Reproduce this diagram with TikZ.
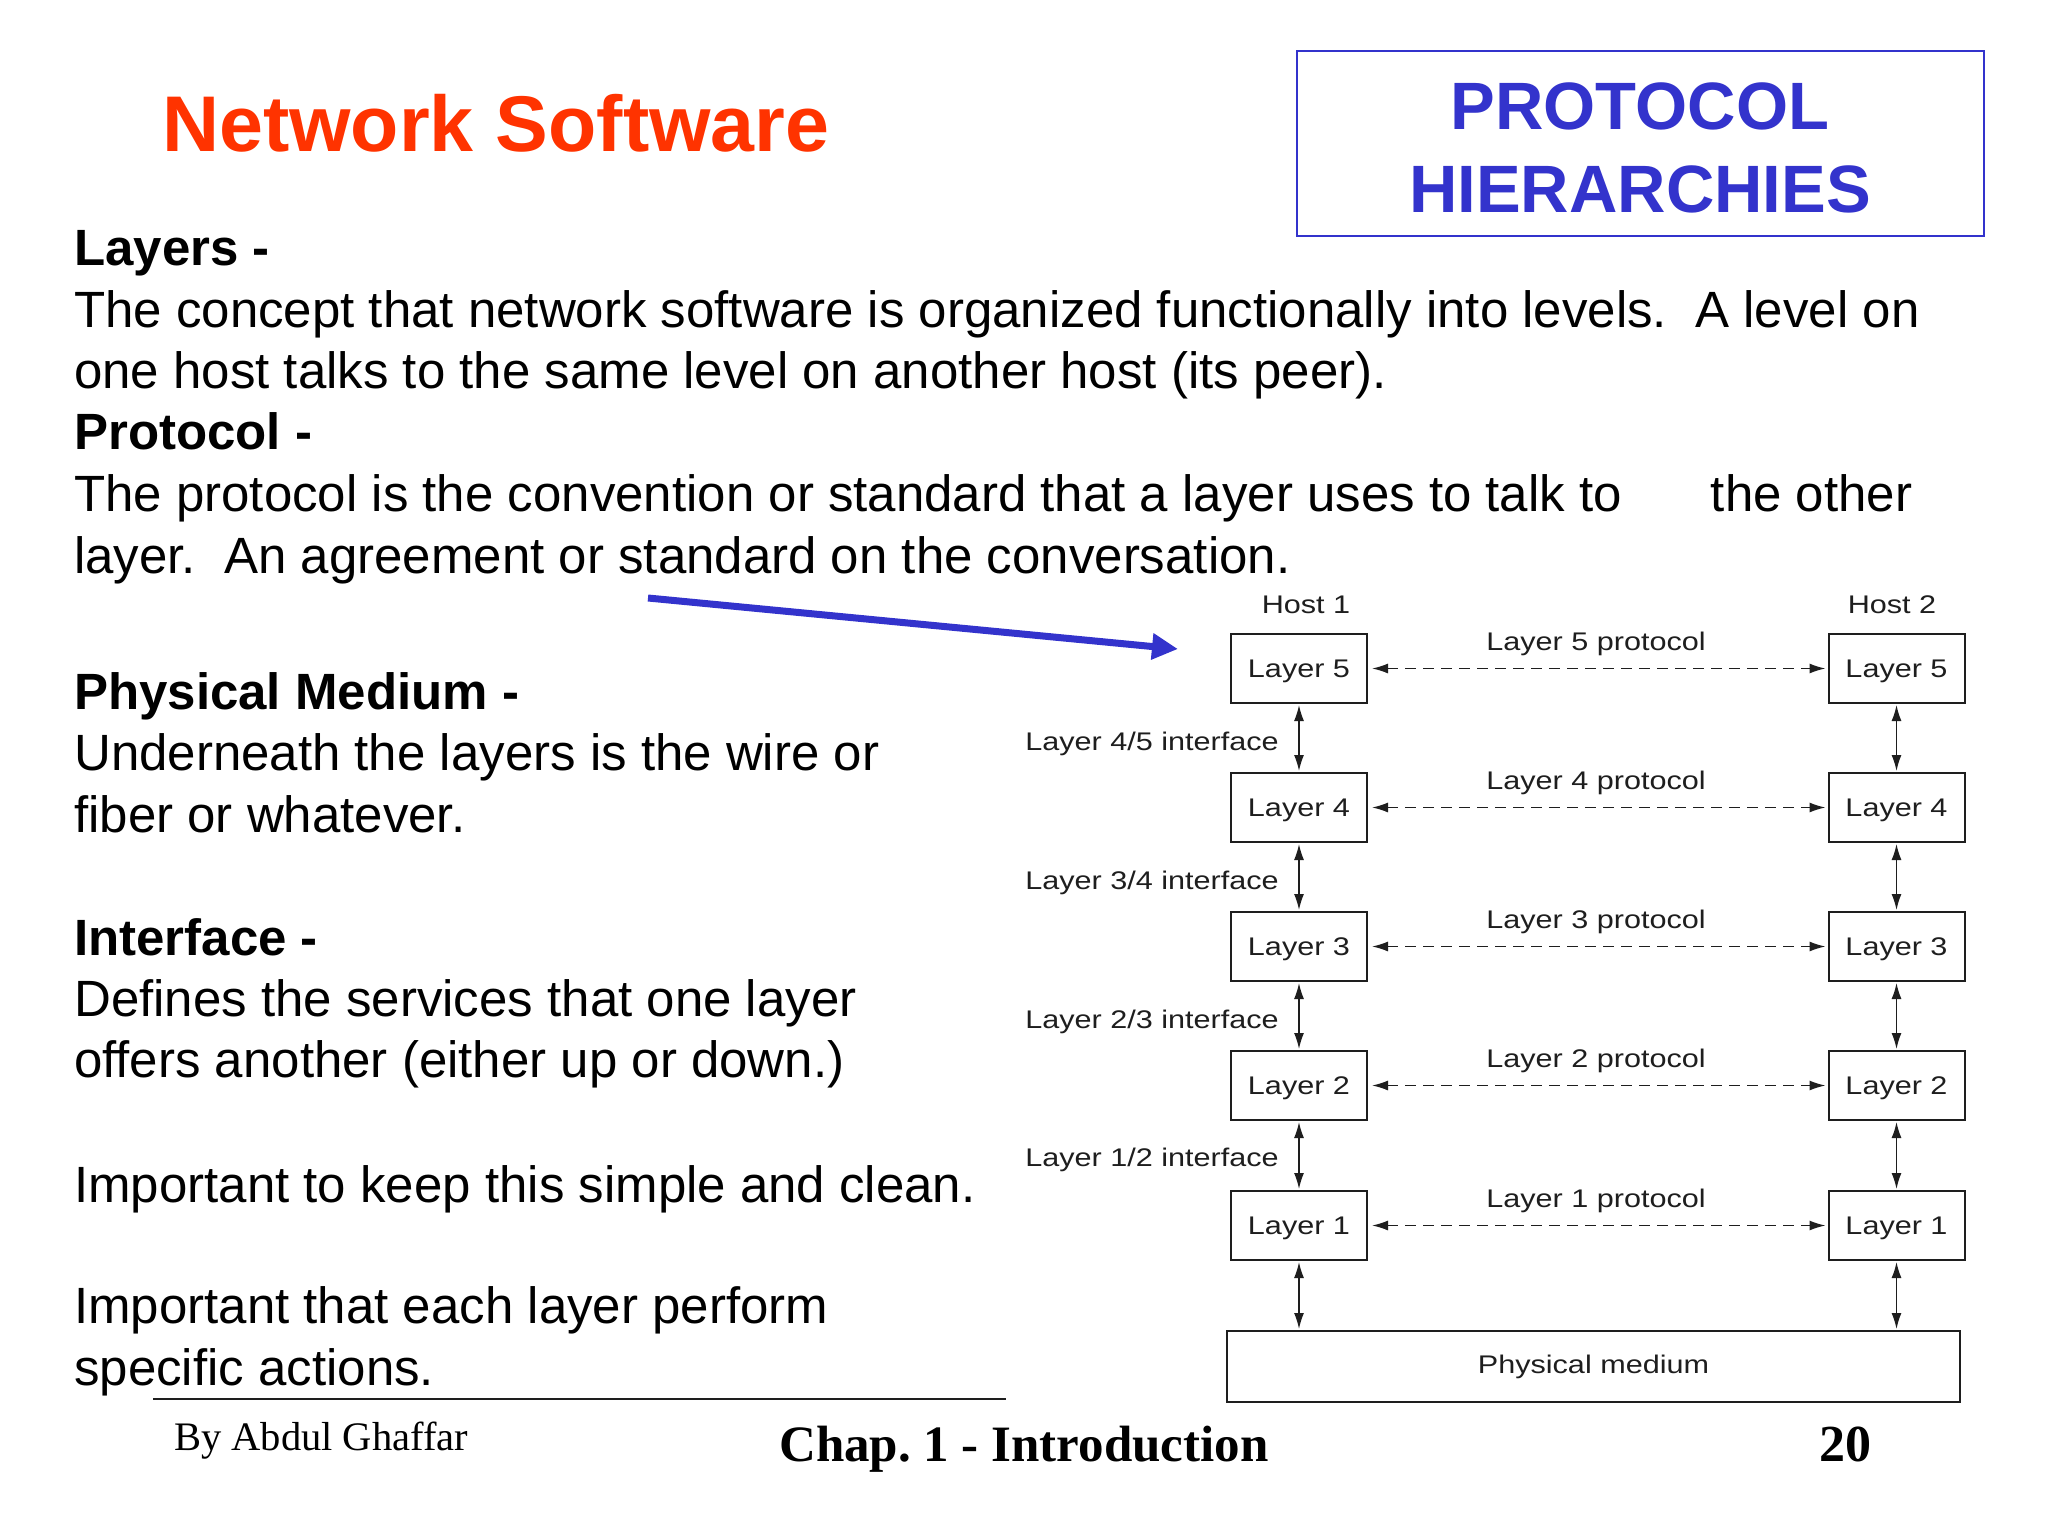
\documentclass[tikz,border=0pt]{standalone}
\usepackage{fontspec}
\setmainfont{Liberation Sans}
\newfontfamily\footserif{Liberation Serif}
\usetikzlibrary{arrows.meta}
\definecolor{titlered}{HTML}{FF3300}
\definecolor{hblue}{HTML}{3333CC}
\definecolor{ink}{HTML}{1E1E1E}
\newcommand{\diagtxt}[1]{{\fontsize{25.5}{30}\selectfont\scalebox{1.2}[1]{#1}}}
\frenchspacing
\tikzset{
  body/.style={anchor=base west, inner sep=0pt, text=black, font=\fontsize{51}{61.6}\selectfont},
  bodyhead/.style={body, font=\fontsize{51}{61.6}\selectfont\bfseries},
  layerbox/.style={draw=ink, line width=2pt, minimum width=136pt, minimum height=69pt, inner sep=0pt, text depth=0pt, text=ink},
  protolbl/.style={anchor=base, inner sep=0pt, text=ink},
  ifacelbl/.style={anchor=base east, inner sep=0pt, text=ink},
  varrow/.style={draw=ink, line width=1.5pt, {Latex[length=16pt,width=10pt]}-{Latex[length=16pt,width=10pt]}, shorten <=1pt, shorten >=1pt},
  harrow/.style={draw=ink, line width=1.5pt, dash pattern=on 11pt off 7pt, {Latex[length=16pt,width=10pt]}-{Latex[length=16pt,width=10pt]}, shorten <=4pt, shorten >=2pt},
  bluearrow/.style={draw=hblue, line width=7pt, -{Triangle[length=26pt,width=25pt]}}
}
\begin{document}
\begin{tikzpicture}[x=1pt,y=-1pt]
\useasboundingbox (0,0) rectangle (2048,1536);
\fill[white] (0,0) rectangle (2048,1536);

% title
\node[anchor=base west, inner sep=0pt, text=titlered, font=\fontsize{79}{90}\selectfont\bfseries] (title) at (162,151) {Network Software};

% protocol hierarchies box
\node[draw=hblue, line width=2.5pt, minimum width=687pt, minimum height=185pt, inner sep=0pt] (phbox) at (1640.5,143.5) {};
\node[anchor=base, inner sep=0pt, text=hblue, font=\fontsize{67}{80}\selectfont\bfseries] (ph1) at (1640,130) {PROTOCOL};
\node[anchor=base, inner sep=0pt, text=hblue, font=\fontsize{67}{80}\selectfont\bfseries] (ph2) at (1640,212) {HIERARCHIES};

% body text
\node[bodyhead] (tA1) at (74,265) {Layers -};
\node[body] (tA2) at (74,327) {The concept that network software is organized functionally into levels.\ \ A level on};
\node[body] (tA3) at (74,388) {one host talks to the same level on another host (its peer).};
\node[bodyhead] (tA4) at (74,449) {Protocol -};
\node[body] (tA5) at (74,511) {The protocol is the convention or standard that a layer uses to talk to\hspace{89pt}the other};
\node[body] (tA6) at (74,573) {layer.\ \ An agreement or standard on the conversation.};

\node[bodyhead] (tB1) at (74,709) {Physical Medium -};
\node[body] (tB2) at (74,770) {Underneath the layers is the wire or};
\node[body] (tB3) at (74,832) {fiber or whatever.};

\node[bodyhead] (tC1) at (74,955) {Interface -};
\node[body] (tC2) at (74,1016) {Defines the services that one layer};
\node[body] (tC3) at (74,1077) {offers another (either up or down.)};

\node[body] (tD1) at (74,1202) {Important to keep this simple and clean.};

\node[body] (tE1) at (74,1323) {Important that each layer perform};
\node[body] (tE2) at (74,1385) {specific actions.};

% blue arrow
\coordinate (arrS) at (648,598);
\coordinate (arrE) at (1178,649);
\draw[bluearrow] (arrS) -- (arrE);

% hosts
\node[protolbl] (host1) at (1306,613) {\diagtxt{Host 1}};
\node[protolbl] (host2) at (1892,613) {\diagtxt{Host 2}};

% layer boxes
\foreach \n/\cy in {5/668.5,4/807.5,3/946.5,2/1085.5,1/1225.5}{
  \node[layerbox] (La\n) at (1299,\cy) {\diagtxt{Layer \n}};
  \node[layerbox] (Lb\n) at (1896.5,\cy) {\diagtxt{Layer \n}};
  \draw[harrow] (La\n) -- (Lb\n);
  \node[protolbl] (P\n) at (1596,\cy-18) {\diagtxt{Layer \n\ protocol}};
}

% physical medium
\node[draw=ink, line width=2pt, minimum width=733pt, minimum height=71pt, inner sep=0pt, text=ink] (phys) at (1593.5,1366.5) {\diagtxt{Physical medium}};

% vertical interface arrows
\foreach \u/\l in {5/4,4/3,3/2,2/1}{
  \draw[varrow] (La\u) -- (La\l);
  \draw[varrow] (Lb\u) -- (Lb\l);
}
\draw[varrow] (La1.south) -- (La1.south |- phys.north);
\draw[varrow] (Lb1.south) -- (Lb1.south |- phys.north);

% interface labels
\node[ifacelbl] (I45) at (1279,750) {\diagtxt{Layer 4/5 interface}};
\node[ifacelbl] (I34) at (1279,889) {\diagtxt{Layer 3/4 interface}};
\node[ifacelbl] (I23) at (1279,1028) {\diagtxt{Layer 2/3 interface}};
\node[ifacelbl] (I12) at (1279,1166) {\diagtxt{Layer 1/2 interface}};

% footer
\coordinate (fl1) at (153,1399);
\coordinate (fl2) at (1006,1399);
\draw[draw=ink, line width=2.5pt] (fl1) -- (fl2);
\node[anchor=base west, inner sep=0pt, font=\footserif\fontsize{40.5}{48}\selectfont] (author) at (174,1450) {By Abdul Ghaffar};
\node[anchor=base west, inner sep=0pt, font=\footserif\fontsize{51}{60}\selectfont\bfseries] (chap) at (779,1461) {Chap. 1 - Introduction};
\node[anchor=base east, inner sep=0pt, font=\footserif\fontsize{52}{60}\selectfont\bfseries] (pagenum) at (1872,1461) {20};
\end{tikzpicture}
\end{document}
